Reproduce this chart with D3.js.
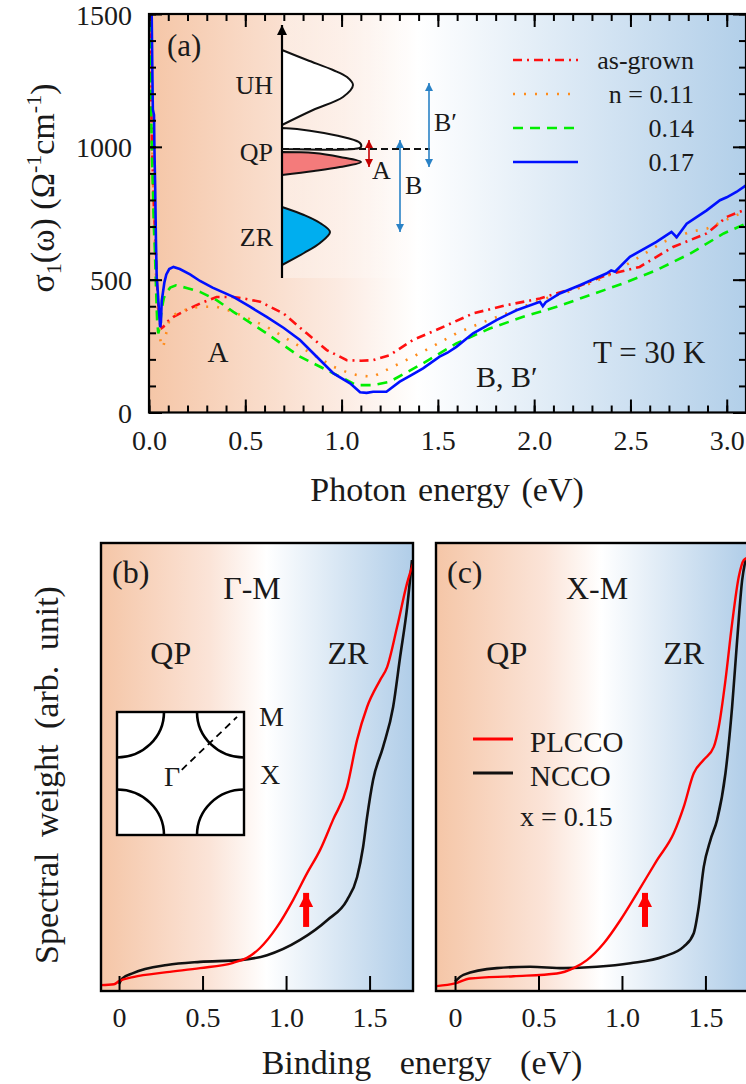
<!DOCTYPE html>
<html>
<head>
<meta charset="utf-8">
<script src="https://cdn.jsdelivr.net/npm/d3@7"></script>
<style>
  body { margin: 0; background: #fff; }
</style>
</head>
<body>
<div id="chart"></div>
<script>
// ---------- panel (a): optical conductivity, [photon energy eV, sigma1] ----------
var asGrown = [[0.003,1600],[0.008,1300],[0.012,1150],[0.016,1000],[0.02,900],[0.025,780],[0.03,700],[0.036,600],
  [0.042,480],[0.05,380],[0.058,330],[0.066,318],[0.075,323],[0.1,345],[0.127,360],[0.2,388],[0.265,410],[0.351,435],
  [0.438,435],[0.5,428],[0.577,417],[0.698,373],[0.819,298],[0.923,235],[1.027,197],[1.1,195],[1.164,197],[1.25,216],
  [1.371,273],[1.509,316],[1.683,373],[1.856,404],[2.03,429],[2.203,467],[2.375,517],[2.548,548],[2.721,623],
  [2.896,674],[3.0,736],[3.1,765]];
var n011 = [[0.003,1600],[0.008,1350],[0.014,1100],[0.02,900],[0.028,700],[0.036,520],[0.045,380],[0.055,290],
  [0.066,247],[0.075,250],[0.09,300],[0.105,345],[0.127,367],[0.2,390],[0.265,398],[0.351,398],[0.438,379],
  [0.611,323],[0.784,248],[0.871,210],[0.958,172],[1.044,147],[1.1,138],[1.164,135],[1.302,185],[1.423,229],
  [1.596,298],[1.717,335],[1.856,373],[2.03,423],[2.203,460],[2.375,511],[2.548,586],[2.67,642],[2.81,680],
  [2.896,692],[3.07,749],[3.1,760]];
var n014 = [[0.002,1600],[0.008,1300],[0.012,1100],[0.016,950],[0.02,850],[0.025,700],[0.03,620],[0.036,480],
  [0.042,350],[0.048,298],[0.056,320],[0.066,390],[0.077,430],[0.087,448],[0.11,470],[0.14,479],[0.2,468],
  [0.265,454],[0.351,423],[0.438,379],[0.611,298],[0.784,210],[0.958,147],[1.078,103],[1.164,103],[1.25,116],
  [1.423,185],[1.596,260],[1.769,316],[1.943,360],[2.117,398],[2.29,442],[2.463,486],[2.636,536],[2.81,598],
  [2.984,674],[3.1,711]];
var n017 = [[0.004,1600],[0.014,1500],[0.018,1250],[0.02,1140],[0.026,1120],[0.028,1000],[0.032,850],[0.036,650],
  [0.04,510],[0.046,450],[0.052,380],[0.058,321],[0.062,340],[0.066,420],[0.072,450],[0.08,490],[0.09,520],
  [0.105,540],[0.127,548],[0.16,540],[0.213,520],[0.265,495],[0.33,470],[0.438,435],[0.52,400],[0.611,360],
  [0.7,318],[0.784,273],[0.871,210],[0.958,147],[1.044,110],[1.096,76],[1.13,74],[1.164,78],[1.233,78],
  [1.302,116],[1.36,140],[1.423,166],[1.509,210],[1.55,225],[1.596,247],[1.683,298],[1.75,325],[1.804,348],
  [1.908,385],[2.03,417],[2.045,400],[2.06,415],[2.133,448],[2.237,479],[2.375,523],[2.4,535],[2.42,530],
  [2.497,586],[2.635,642],[2.713,680],[2.74,660],[2.792,711],[2.896,761],[2.965,799],[3.0,810],[3.05,830],[3.1,855]];
var seriesNamesA = ["as-grown", "n = 0.11", "0.14", "0.17"];
var xTicksA = [0, 0.5, 1, 1.5, 2, 2.5, 3];
var xTickLabelsA = ["0.0", "0.5", "1.0", "1.5", "2.0", "2.5", "3.0"];
var yTicksA = [0, 500, 1000, 1500];
var yTickLabelsA = ["0", "500", "1000", "1500"];

// inset of (a): schematic bands, [weight, energy] in arbitrary units
var bandUH = [[0,228],[25,218],[51,208],[65,201],[71,193],[61,181],[31,168],[0,153]];
var bandQPup = [[0,150],[15,149],[42,145],[65,140],[78,135],[79,131],[72,129],[0,129]];
var bandQPlow = [[0,126],[32,125],[58,121],[79,116],[58,111],[32,107],[0,103]];
var bandZR = [[0,71],[22,63],[38,55],[48,46],[38,35],[22,25],[0,13]];
var fermiLevel = 129;

// ---------- panels (b), (c): ARPES spectral weight, [binding energy eV, weight] ----------
var gmPLCCO = [[-0.11,0.013],[-0.03,0.015],[0.0,0.022],[0.084,0.031],[0.287,0.042],[0.485,0.051],[0.683,0.063],
  [0.766,0.074],[0.844,0.096],[0.946,0.143],[1.042,0.203],[1.126,0.263],[1.204,0.315],[1.281,0.382],[1.365,0.455],
  [1.425,0.56],[1.485,0.634],[1.563,0.694],[1.605,0.723],[1.665,0.813],[1.725,0.911],[1.772,0.967]];
var gmNCCO = [[0,0.016],[0.02,0.028],[0.084,0.04],[0.287,0.058],[0.485,0.065],[0.725,0.069],[0.886,0.08],
  [1.084,0.114],[1.246,0.158],[1.365,0.203],[1.425,0.254],[1.461,0.321],[1.485,0.388],[1.521,0.471],[1.581,0.545],
  [1.641,0.634],[1.683,0.746],[1.725,0.857],[1.754,0.962]];
var xmPLCCO = [[-0.11,0.011],[0,0.017],[0.09,0.028],[0.35,0.033],[0.61,0.039],[0.71,0.051],[0.79,0.069],
  [0.89,0.106],[0.99,0.158],[1.09,0.218],[1.21,0.292],[1.31,0.352],[1.37,0.411],[1.43,0.486],[1.49,0.516],
  [1.55,0.545],[1.58,0.59],[1.62,0.694],[1.66,0.821],[1.7,0.925],[1.73,0.962],[1.75,0.967]];
var xmNCCO = [[0,0.021],[0.05,0.036],[0.25,0.051],[0.45,0.054],[0.65,0.051],[0.85,0.054],[1.05,0.062],
  [1.25,0.077],[1.37,0.099],[1.43,0.129],[1.46,0.188],[1.49,0.277],[1.53,0.337],[1.57,0.382],[1.62,0.486],
  [1.66,0.635],[1.69,0.783],[1.72,0.917],[1.74,0.962]];
var xTicksBC = [0, 0.5, 1, 1.5];
var xTickLabelsBC = ["0", "0.5", "1.0", "1.5"];
var legendNamesC = ["PLCCO", "NCCO"];

// ---------- drawing ----------
var font = "'Liberation Serif'";   // one quoted family name only
var ink = "#1a1a1a";
var W = 746, H = 1084;
var svg = d3.select("#chart").append("svg").attr("width", W).attr("height", H);
svg.append("rect").attr("width", W).attr("height", H).attr("fill", "#fff");
var defs = svg.append("defs");

function addGrad(id, stops) {
    var g = defs.append("linearGradient").attr("id", id)
        .attr("x1", 0).attr("x2", 1).attr("y1", 0).attr("y2", 0);
    stops.forEach(function(s){ g.append("stop").attr("offset", s[0]).attr("stop-color", s[1]); });
}
addGrad("gradA", [[0,"#f5c6a7"],[0.32,"#fcebe2"],[0.45,"#ffffff"],[1,"#b2cfe9"]]);
addGrad("gradBC", [[0,"#f5c6a7"],[0.35,"#fbe4d8"],[0.53,"#ffffff"],[1,"#b0cde8"]]);
var fade = defs.append("linearGradient").attr("id", "insetFade");
fade.append("stop").attr("offset", 0).attr("stop-color", "#fff").attr("stop-opacity", 0.35);
fade.append("stop").attr("offset", 1).attr("stop-color", "#fff").attr("stop-opacity", 0);

function addMarker(id, color, len, wid) {
    defs.append("marker").attr("id", id)
        .attr("viewBox", "0 0 10 10").attr("refX", 10).attr("refY", 5)
        .attr("markerUnits", "userSpaceOnUse")
        .attr("markerWidth", len).attr("markerHeight", wid)
        .attr("orient", "auto-start-reverse")
        .append("path").attr("d", "M0,0L10,5L0,10z").attr("fill", color);
}
addMarker("arrBlue", "#2a82c6", 10, 8);
addMarker("arrRed", "#c40000", 8, 8);
addMarker("arrBlack", "#000", 13, 10);
addMarker("arrThick", "#ff0000", 14, 17);

function label(g, txt, x, y, size, anchor) {
    return g.append("text").attr("x", x).attr("y", y)
        .style("font-family", font).style("fill", ink)
        .attr("font-size", size).attr("text-anchor", anchor || "start").text(txt);
}

// ===== panel (a) =====
var A = {left: 149, right: 746, top: 14, bottom: 412.5};
var xA = d3.scaleLinear().domain([0, 3.1]).range([A.left, A.right]);
var yA = d3.scaleLinear().domain([0, 1500]).range([A.bottom, A.top]);

var gA = svg.append("g");
gA.append("rect").attr("x", A.left).attr("y", A.top)
    .attr("width", A.right - A.left).attr("height", A.bottom - A.top)
    .attr("fill", "url(#gradA)");

defs.append("clipPath").attr("id", "clipA").append("rect")
    .attr("x", A.left).attr("y", A.top).attr("width", A.right - A.left).attr("height", A.bottom - A.top);

// inset scales
var insX = d3.scaleLinear().domain([0, 100]).range([282, 382]);
var insY = d3.scaleLinear().domain([0, 253]).range([278, 25]);

gA.append("rect").attr("x", insX(0)).attr("y", A.top)
    .attr("width", 190).attr("height", insY(0) - A.top)
    .attr("fill", "url(#insetFade)");

var bandLine = d3.line()
    .x(function(d){ return insX(d[0]); })
    .y(function(d){ return insY(d[1]); })
    .curve(d3.curveCatmullRom.alpha(0.5));

var bands = [[bandUH, "#ffffff"], [bandQPup, "#ffffff"], [bandQPlow, "#f47b7b"], [bandZR, "#00aeef"]];
bands.forEach(function(b){
    gA.append("path").attr("d", bandLine(b[0]) + "Z")
        .attr("fill", b[1]).attr("stroke", "#111").attr("stroke-width", 2);
});
// energy axis of the inset
gA.append("line").attr("x1", insX(0)).attr("x2", insX(0))
    .attr("y1", insY(0)).attr("y2", insY(253))
    .attr("stroke", "#000").attr("stroke-width", 2.2).attr("marker-end", "url(#arrBlack)");
// Fermi level
gA.append("line").attr("x1", insX(0)).attr("x2", insX(148))
    .attr("y1", insY(fermiLevel)).attr("y2", insY(fermiLevel))
    .attr("stroke", "#111").attr("stroke-width", 2).attr("stroke-dasharray", "7,4");

function dblArrow(g, x, e0, e1, marker, color) {
    g.append("line").attr("x1", insX(x)).attr("x2", insX(x))
        .attr("y1", insY(e0)).attr("y2", insY(e1))
        .attr("stroke", color).attr("stroke-width", 1.6)
        .attr("marker-start", "url(#" + marker + ")").attr("marker-end", "url(#" + marker + ")");
}
dblArrow(gA, 87, 138, 111, "arrRed", "#c40000");
dblArrow(gA, 118, 138, 46, "arrBlue", "#2a82c6");
dblArrow(gA, 147, 195, 111, "arrBlue", "#2a82c6");

label(gA, "UH", 273, 94, 26, "end");
label(gA, "QP", 273, 161, 26, "end");
label(gA, "ZR", 273, 246, 26, "end");
label(gA, "A", 372, 179, 26);
label(gA, "B", 405, 194, 26);
label(gA, "B\u2032", 434, 131, 26);

// conductivity curves
var seriesA = [asGrown, n011, n014, n017];
var styleA = [
    {color: "#ff1010", dash: "9,5,2,5"},
    {color: "#ff8c1a", dash: "2,9"},
    {color: "#00ee00", dash: "10,7"},
    {color: "#0010ff", dash: null}
];
var lineA = d3.line().x(function(d){ return xA(d[0]); }).y(function(d){ return yA(d[1]); });
var curvesA = gA.append("g").attr("clip-path", "url(#clipA)");
seriesA.forEach(function(s, i){
    curvesA.append("path").attr("d", lineA(s))
        .attr("fill", "none").attr("stroke", styleA[i].color)
        .attr("stroke-width", 2.6).attr("stroke-dasharray", styleA[i].dash);
});

// legend (a)
var legY = [60, 94, 128, 162];
seriesNamesA.forEach(function(n, i){
    gA.append("line").attr("x1", 513).attr("x2", 578).attr("y1", legY[i]).attr("y2", legY[i])
        .attr("stroke", styleA[i].color).attr("stroke-width", 2.6).attr("stroke-dasharray", styleA[i].dash);
    label(gA, n, 694, legY[i] + 9, 26, "end");
});

label(gA, "(a)", 167, 56, 31);
label(gA, "A", 218, 362, 29, "middle");
label(gA, "B, B\u2032", 476, 387, 30);
label(gA, "T = 30 K", 593, 363, 31);

// axes (a): ticks pointing inward on all sides
function styleAxis(sel, size) {
    sel.select(".domain").remove();
    sel.attr("font-family", null);
    sel.selectAll("line").attr("stroke", "#000").attr("stroke-width", 2);
    sel.selectAll("text").attr("font-size", size).style("font-family", font).style("fill", ink);
}
var minorX = d3.range(0, 3.101, 0.1), minorY = d3.range(0, 1501, 100);
var axB = gA.append("g").attr("transform", "translate(0," + A.bottom + ")")
    .call(d3.axisBottom(xA).tickValues(xTicksA).tickSize(-13).tickPadding(18)
        .tickFormat(function(d, i){ return xTickLabelsA[i]; }));
styleAxis(axB, 28);
styleAxis(gA.append("g").attr("transform", "translate(0," + A.bottom + ")")
    .call(d3.axisBottom(xA).tickValues(minorX).tickSize(-7).tickFormat("")), 28);
styleAxis(gA.append("g").attr("transform", "translate(0," + A.top + ")")
    .call(d3.axisTop(xA).tickValues(xTicksA).tickSize(-13).tickFormat("")), 28);
styleAxis(gA.append("g").attr("transform", "translate(0," + A.top + ")")
    .call(d3.axisTop(xA).tickValues(minorX).tickSize(-7).tickFormat("")), 28);
var axL = gA.append("g").attr("transform", "translate(" + A.left + ",0)")
    .call(d3.axisLeft(yA).tickValues(yTicksA).tickSize(-13).tickPadding(17)
        .tickFormat(function(d, i){ return yTickLabelsA[i]; }));
styleAxis(axL, 28);
axL.selectAll("text").attr("dy", "0.36em");
styleAxis(gA.append("g").attr("transform", "translate(" + A.left + ",0)")
    .call(d3.axisLeft(yA).tickValues(minorY).tickSize(-7).tickFormat("")), 28);
styleAxis(gA.append("g").attr("transform", "translate(" + A.right + ",0)")
    .call(d3.axisRight(yA).tickValues(yTicksA).tickSize(-13).tickFormat("")), 28);
styleAxis(gA.append("g").attr("transform", "translate(" + A.right + ",0)")
    .call(d3.axisRight(yA).tickValues(minorY).tickSize(-7).tickFormat("")), 28);

gA.append("rect").attr("x", A.left).attr("y", A.top)
    .attr("width", A.right - A.left).attr("height", A.bottom - A.top)
    .attr("fill", "none").attr("stroke", "#000").attr("stroke-width", 2.2);

label(gA, "Photon energy (eV)", 447, 501, 34, "middle").style("word-spacing", "3px");
var yTitleA = gA.append("text").attr("transform", "translate(54,188) rotate(-90)")
    .style("font-family", font).style("fill", ink).attr("font-size", 34).attr("text-anchor", "middle");
yTitleA.append("tspan").text("\u03c3");
yTitleA.append("tspan").attr("font-size", 22).attr("dy", 7).text("1");
yTitleA.append("tspan").attr("dy", -7).text("(\u03c9) (\u03a9");
yTitleA.append("tspan").attr("font-size", 22).attr("dy", -13).text("-1");
yTitleA.append("tspan").attr("dy", 13).text("cm");
yTitleA.append("tspan").attr("font-size", 22).attr("dy", -13).text("-1");
yTitleA.append("tspan").attr("dy", 13).text(")");

// ===== panels (b) and (c) =====
function drawArpes(cfg) {
    var x = d3.scaleLinear().domain(cfg.domain).range([cfg.left, cfg.left + 312]);
    var y = d3.scaleLinear().domain([0, 1]).range([991, 543]);
    var g = svg.append("g");
    g.append("rect").attr("x", cfg.left).attr("y", 543).attr("width", 312).attr("height", 448)
        .attr("fill", "url(#gradBC)");
    defs.append("clipPath").attr("id", cfg.id).append("rect")
        .attr("x", cfg.left).attr("y", 543).attr("width", 312).attr("height", 448);

    var line = d3.line().x(function(d){ return x(d[0]); }).y(function(d){ return y(d[1]); })
        .curve(d3.curveMonotoneX);
    var cg = g.append("g").attr("clip-path", "url(#" + cfg.id + ")");
    cg.append("path").attr("d", line(cfg.ncco)).attr("fill", "none")
        .attr("stroke", "#111").attr("stroke-width", 2.6);
    cg.append("path").attr("d", line(cfg.plcco)).attr("fill", "none")
        .attr("stroke", "#ff0000").attr("stroke-width", 2.4);

    // thick red arrow
    g.append("line").attr("x1", x(cfg.arrowE)).attr("x2", x(cfg.arrowE))
        .attr("y1", y(0.143)).attr("y2", y(0.219))
        .attr("stroke", "#ff0000").attr("stroke-width", 6).attr("marker-end", "url(#arrThick)");

    var ax = g.append("g").attr("transform", "translate(0,991)")
        .call(d3.axisBottom(x).tickValues(xTicksBC).tickSize(-15).tickPadding(16)
            .tickFormat(function(d, i){ return xTickLabelsBC[i]; }));
    styleAxis(ax, 28);

    g.append("rect").attr("x", cfg.left).attr("y", 543).attr("width", 312).attr("height", 448)
        .attr("fill", "none").attr("stroke", "#000").attr("stroke-width", 2.4);

    label(g, cfg.tag, cfg.left + 11, 583, 32);
    label(g, cfg.dir, cfg.dirX, 599, 32, "middle");
    label(g, "QP", x(0.31), 664, 32, "middle");
    label(g, "ZR", x(1.37), 664, 32, "middle");
    return {g: g, x: x, y: y};
}

var pB = drawArpes({id: "clipB", left: 101, domain: [-0.108, 1.76], plcco: gmPLCCO, ncco: gmNCCO,
    arrowE: 1.12, tag: "(b)", dir: "\u0393-M", dirX: 252});
var pC = drawArpes({id: "clipC", left: 436, domain: [-0.114, 1.755], plcco: xmPLCCO, ncco: xmNCCO,
    arrowE: 1.138, tag: "(c)", dir: "X-M", dirX: 597});

// Brillouin-zone inset in (b)
var kx = d3.scaleLinear().domain([-1, 1]).range([117, 244]);
var ky = d3.scaleLinear().domain([-1, 1]).range([835, 712]);
var bz = pB.g.append("g");
bz.append("rect").attr("x", kx(-1)).attr("y", ky(1)).attr("width", kx(1) - kx(-1)).attr("height", ky(-1) - ky(1))
    .attr("fill", "#fff").attr("stroke", "#000").attr("stroke-width", 2.4);
var fsRadius = 0.74;
var corners = [[1, 1, Math.PI / 2, Math.PI], [-1, 1, 0, Math.PI / 2],
               [-1, -1, -Math.PI / 2, 0], [1, -1, Math.PI, 1.5 * Math.PI]];
var rx = kx(fsRadius) - kx(0), ry = ky(0) - ky(fsRadius);
corners.forEach(function(c){
    var p = d3.path();
    p.arc(0, 0, rx, c[2], c[3]);
    bz.append("path").attr("d", p.toString())
        .attr("transform", "translate(" + kx(c[0]) + "," + ky(c[1]) + ") scale(1," + (ry / rx) + ")")
        .attr("fill", "none").attr("stroke", "#000").attr("stroke-width", 2.6)
        .attr("vector-effect", "non-scaling-stroke");
});
bz.append("line").attr("x1", kx(0.02)).attr("y1", ky(0.06)).attr("x2", kx(0.89)).attr("y2", ky(0.92))
    .attr("stroke", "#000").attr("stroke-width", 1.8).attr("stroke-dasharray", "7,5");
label(bz, "\u0393", 172, 786, 28, "middle");
label(bz, "M", 259, 726, 28);
label(bz, "X", 260, 784, 28);

// legend in (c)
var legC = [[xmPLCCO, "#ff0000", 739], [xmNCCO, "#111", 773]];
legendNamesC.forEach(function(n, i){
    pC.g.append("line").attr("x1", 473).attr("x2", 513).attr("y1", legC[i][2]).attr("y2", legC[i][2])
        .attr("stroke", legC[i][1]).attr("stroke-width", 3);
    label(pC.g, n, 530, legC[i][2] + 13, 29);
});
label(pC.g, "x = 0.15", 520, 826, 28);

label(svg, "Binding energy (eV)", 422, 1074, 34, "middle").style("word-spacing", "20px");
svg.append("text").attr("transform", "translate(58,775) rotate(-90)")
    .style("font-family", font).style("fill", ink).style("word-spacing", "7px")
    .attr("font-size", 34).attr("text-anchor", "middle")
    .text("Spectral weight (arb. unit)");
</script>
</body>
</html>
